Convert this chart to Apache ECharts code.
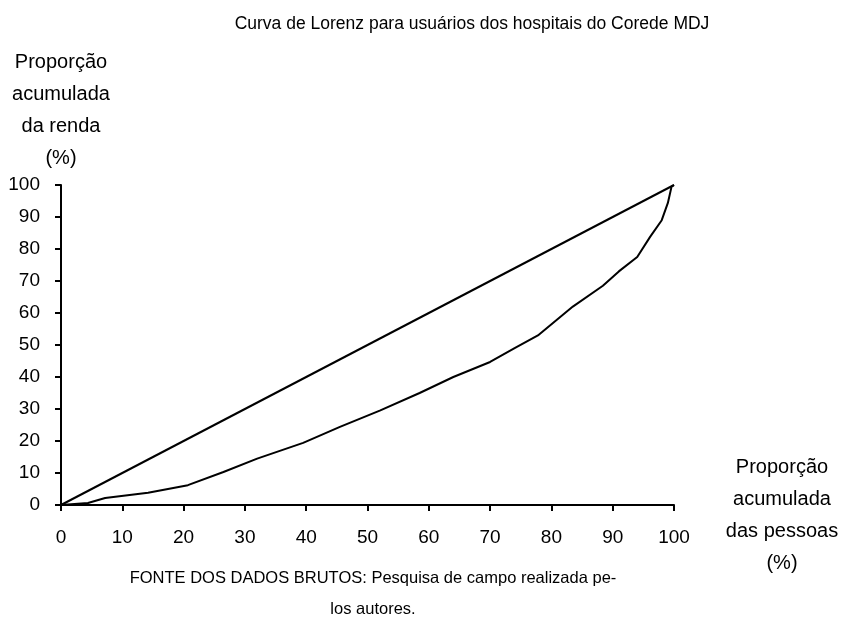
<!DOCTYPE html>
<html>
<head>
<meta charset="utf-8">
<script src="https://cdn.jsdelivr.net/npm/echarts@6/dist/echarts.min.js"></script>
<style>html,body{margin:0;padding:0;background:#fff}#c{width:847px;height:634px}</style>
</head>
<body>
<div id="c"></div>
<script>
// Lorenz curve: cumulative share of people (%) vs cumulative share of income (%)
var lorenzX = [0, 4.4, 7.2, 14.2, 20.7, 26.5, 32, 39.5, 45.5, 52, 58.5, 64, 70, 74, 77.8, 83.5, 88.4, 91, 94, 96.1, 98, 99, 99.6, 100];
var lorenzY = [0, 0.6, 2.2, 3.8, 6.2, 10.3, 14.5, 19.4, 24.4, 29.5, 35, 40, 44.7, 49, 53, 62, 68.5, 73, 77.5, 83.8, 89, 94.4, 99.5, 100];
var equalityX = [0, 100];
var equalityY = [0, 100];
var xTicks = [0, 10, 20, 30, 40, 50, 60, 70, 80, 90, 100];
var yTicks = [0, 10, 20, 30, 40, 50, 60, 70, 80, 90, 100];

var titleText = 'Curva de Lorenz para usuários dos hospitais do Corede MDJ';
var yName = 'Proporção\nacumulada\nda renda\n(%)';
var xName = 'Proporção\nacumulada\ndas pessoas\n(%)';
var sourceText = 'FONTE DOS DADOS BRUTOS: Pesquisa de campo realizada pe-\nlos autores.';

function pairs(xs, ys) { return xs.map(function (x, i) { return [x, ys[i]]; }); }

var font = '"Liberation Sans", Arial, sans-serif';
var chart = echarts.init(document.getElementById('c'), null, {renderer: 'canvas'});
chart.setOption({
  animation: false,
  backgroundColor: '#fff',
  textStyle: {fontFamily: font, color: '#000'},
  title: [
    {text: titleText, left: 467, top: 10, textAlign: 'center',
     textStyle: {fontFamily: font, fontSize: 17.5, fontWeight: 'normal', color: '#000'}},
    {text: sourceText, left: 368, top: 558, textAlign: 'center',
     textStyle: {fontFamily: font, fontSize: 16.5, fontWeight: 'normal', color: '#000', lineHeight: 31}}
  ],
  graphic: [
    {type: 'text', x: 782, y: 451, silent: true,
     style: {text: xName, align: 'center', verticalAlign: 'top', fill: '#000',
             font: '20px "Liberation Sans", Arial, sans-serif', lineHeight: 32}}
  ],
  grid: {left: 61, right: 173, top: 185, bottom: 129, containLabel: false},
  xAxis: {
    type: 'value', min: 0, max: 100, interval: 10,
    axisLine: {show: true, lineStyle: {color: '#000', width: 2}},
    axisTick: {show: true, length: 6, lineStyle: {color: '#000', width: 2}},
    axisLabel: {fontFamily: font, fontSize: 19, color: '#000', margin: 23,
      formatter: function (v) { return xTicks.indexOf(v) >= 0 ? String(v) : ''; }},
    splitLine: {show: false}
  },
  yAxis: {
    type: 'value', min: 0, max: 100, interval: 10,
    name: yName, nameLocation: 'end', nameGap: 11,
    nameTextStyle: {fontFamily: font, fontSize: 20, color: '#000', align: 'center', lineHeight: 32},
    axisLine: {show: true, lineStyle: {color: '#000', width: 2}},
    axisTick: {show: true, length: 6, lineStyle: {color: '#000', width: 2}},
    axisLabel: {fontFamily: font, fontSize: 19, color: '#000', margin: 21,
      formatter: function (v) { return yTicks.indexOf(v) >= 0 ? String(v) : ''; }},
    splitLine: {show: false}
  },
  series: [
    {type: 'line', data: pairs(equalityX, equalityY), showSymbol: false, symbol: 'none',
     lineStyle: {color: '#000', width: 2}, silent: true},
    {type: 'line', data: pairs(lorenzX, lorenzY), showSymbol: false, symbol: 'none',
     lineStyle: {color: '#000', width: 2}, silent: true}
  ]
});
</script>
</body>
</html>
